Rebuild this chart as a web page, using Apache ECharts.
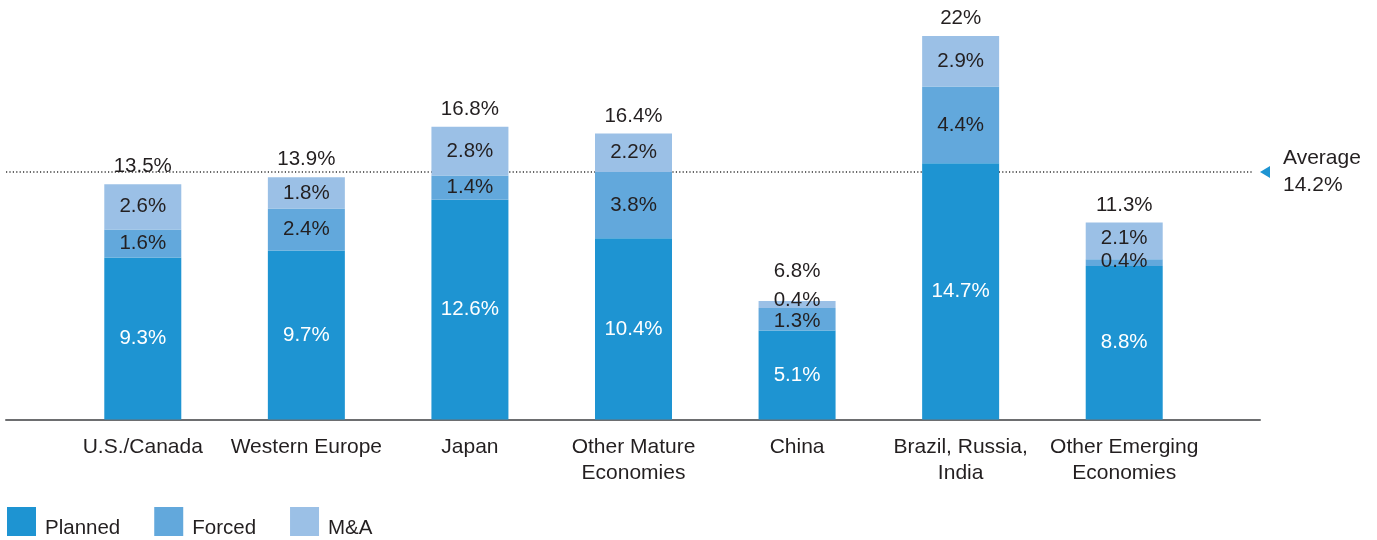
<!DOCTYPE html>
<html>
<head>
<meta charset="utf-8">
<title>Turnover by region</title>
<script src="https://cdn.jsdelivr.net/npm/echarts@6/dist/echarts.min.js"></script>
<style>
  html, body { margin: 0; padding: 0; background: #fff; }
  #chart { width: 1377px; height: 540px; }
</style>
</head>
<body>
<div id="chart"></div>
<script>
// Regions along the x axis
const categories = ['U.S./Canada', 'Western Europe', 'Japan', 'Other Mature\nEconomies', 'China', 'Brazil, Russia,\nIndia', 'Other Emerging\nEconomies'];
// Turnover components, percent
const planned = [9.3, 9.7, 12.6, 10.4, 5.1, 14.7, 8.8];
const forced  = [1.6, 2.4, 1.4, 3.8, 1.3, 4.4, 0.4];
const mAndA   = [2.6, 1.8, 2.8, 2.2, 0.4, 2.9, 2.1];
// Total turnover per region, percent
const totals  = [13.5, 13.9, 16.8, 16.4, 6.8, 22, 11.3];
// Average across regions, percent
const average = 14.2;

const TEXT = '#231f20';
const FONT = '"Liberation Sans", Arial, Helvetica, sans-serif';
const COLORS = { planned: '#1e94d2', forced: '#62a8dc', mna: '#9bc0e6' };
const VALUE_FONT = 20.5;

// small nudges for labels of thin segments so they do not collide
const labelNudge = {
  'Forced-4': [0, 2], 'M&A-4': [0, -4], 'Total-4': [0, -12],
  'Forced-6': [0, -1], 'M&A-6': [0, -2]
};

function withNudges(name, values) {
  return values.map((v, i) => {
    const off = labelNudge[name + '-' + i];
    return off ? { value: v, label: { offset: off } } : v;
  });
}

function segSeries(name, values, color, labelColor) {
  return {
    name, type: 'bar', stack: 'turnover', xAxisIndex: 0, yAxisIndex: 0,
    barWidth: 77, z: 3,
    itemStyle: { color },
    label: {
      show: true, position: 'inside', color: labelColor,
      fontFamily: FONT, fontSize: VALUE_FONT,
      formatter: p => p.value + '%'
    },
    data: withNudges(name, values)
  };
}

const chart = echarts.init(document.getElementById('chart'), null, { renderer: 'canvas' });

chart.setOption({
  animation: false,
  textStyle: { fontFamily: FONT },
  grid: [
    { left: 61, right: 171, top: 36, bottom: 120.5 },
    { left: 6, right: 117, top: 36, bottom: 120.5 }
  ],
  xAxis: [
    {
      type: 'category', gridIndex: 0, data: categories,
      axisLine: { show: false }, axisTick: { show: false },
      axisLabel: { interval: 0, color: TEXT, fontSize: 21, lineHeight: 26, margin: 15, fontFamily: FONT }
    },
    {
      type: 'value', gridIndex: 1, min: 0, max: 1,
      axisLine: { show: true, lineStyle: { color: '#6d6e70', width: 2 } },
      axisTick: { show: false }, axisLabel: { show: false }, splitLine: { show: false }
    }
  ],
  yAxis: [
    { type: 'value', gridIndex: 0, min: 0, max: 22, show: false },
    { type: 'value', gridIndex: 1, min: 0, max: 22, show: false }
  ],
  legend: {
    left: 7, top: 507, padding: 0, itemWidth: 29, itemHeight: 29, itemGap: 34,
    icon: 'rect',
    data: ['Planned', 'Forced', 'M&A'],
    formatter: '{t|{name}}',
    textStyle: {
      color: TEXT, fontSize: 20.5, fontFamily: FONT,
      rich: { t: { color: TEXT, fontSize: 20.5, fontFamily: FONT, padding: [14, 0, 0, 4] } }
    }
  },
  series: [
    {
      // dotted average line behind the bars
      name: 'Average', type: 'line', xAxisIndex: 1, yAxisIndex: 1, z: 1,
      symbol: 'none', silent: true,
      lineStyle: { color: '#333', width: 1.6, type: [1.2, 2.2] },
      data: [[0, average], [0.995, average]]
    },
    {
      name: 'AverageMarker', type: 'scatter', xAxisIndex: 1, yAxisIndex: 1, z: 4,
      clip: false, symbol: 'triangle', symbolSize: [12, 10], symbolRotate: 90,
      itemStyle: { color: COLORS.planned, opacity: 1 },
      label: {
        show: true, position: 'right', distance: 13, color: TEXT,
        fontSize: 21, lineHeight: 27, align: 'left', fontFamily: FONT,
        formatter: () => 'Average\n' + average + '%'
      },
      data: [[1.004, average]]
    },
    segSeries('Planned', planned, COLORS.planned, '#ffffff'),
    segSeries('Forced', forced, COLORS.forced, TEXT),
    segSeries('M&A', mAndA, COLORS.mna, TEXT),
    {
      // zero-height cap carrying the total above each stack
      name: 'Total', type: 'bar', stack: 'turnover', xAxisIndex: 0, yAxisIndex: 0,
      barWidth: 77, z: 3, itemStyle: { color: 'transparent' },
      label: {
        show: true, position: 'top', distance: 7, color: TEXT,
        fontSize: VALUE_FONT, fontFamily: FONT,
        formatter: p => totals[p.dataIndex] + '%'
      },
      data: withNudges('Total', totals.map(() => 0))
    }
  ]
});
</script>
</body>
</html>
